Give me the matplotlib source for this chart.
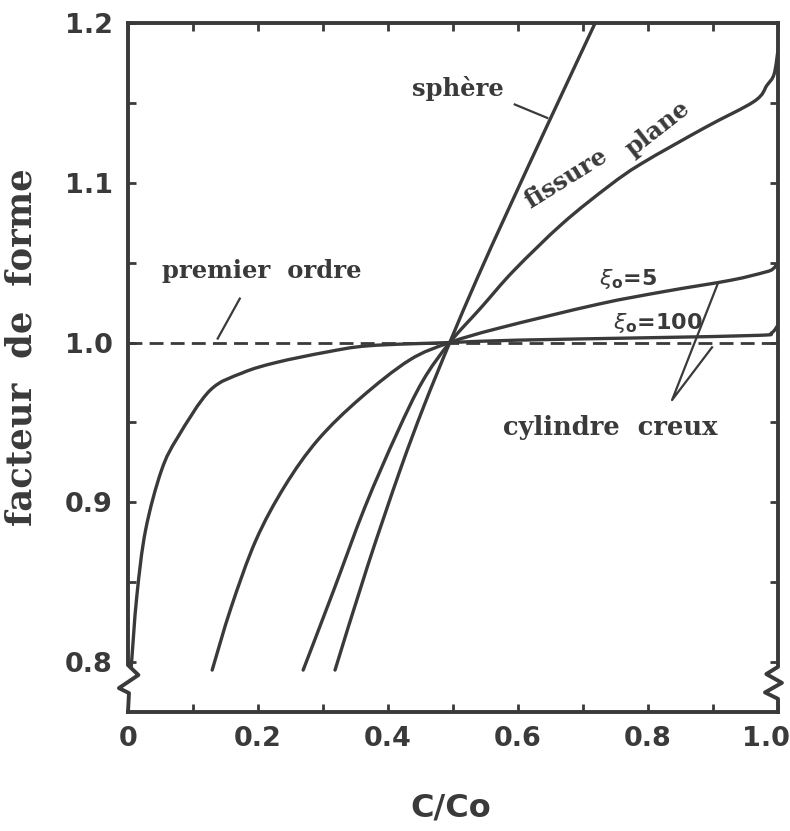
import matplotlib
matplotlib.use("Agg")
import matplotlib.pyplot as plt
from matplotlib.path import Path
from matplotlib.patches import PathPatch
import matplotlib.transforms as mtransforms

# ---------------- data ----------------
sphere_x = [0.3185, 0.3685, 0.4185, 0.455, 0.495, 0.537, 0.586, 0.6497, 0.7187]
sphere_y = [0.795, 0.860, 0.920, 0.960, 1.000, 1.040, 1.084, 1.140, 1.200]

fissure_x = [0.2695, 0.3165, 0.3645, 0.4135, 0.4535, 0.495, 0.5435, 0.5935, 0.6685,
             0.74, 0.79, 0.8875, 0.9635, 0.983, 0.994, 1.0]
fissure_y = [0.795, 0.845, 0.897, 0.943, 0.976, 1.000, 1.022, 1.045, 1.0745,
             1.098, 1.112, 1.1345, 1.151, 1.161, 1.168, 1.183]

xi5_x = [0.1295, 0.1585, 0.1965, 0.241, 0.292, 0.357, 0.433, 0.495, 0.5705,
         0.7235, 0.826, 0.9275, 0.9795, 0.992, 1.0]
xi5_y = [0.795, 0.834, 0.876, 0.910, 0.939, 0.965, 0.989, 1.000, 1.009,
         1.024, 1.032, 1.039, 1.044, 1.046, 1.050]

xi100_x = [0.005, 0.0135, 0.027, 0.0515, 0.077, 0.126, 0.176, 0.228, 0.305, 0.371,
           0.495, 0.6, 0.8, 0.97, 0.99, 1.0]
xi100_y = [0.797, 0.841, 0.8825, 0.920, 0.941, 0.970, 0.981, 0.9875, 0.994, 0.998,
           1.000, 1.0015, 1.003, 1.0045, 1.006, 1.011]

premier_x = [0.0, 1.0]
premier_y = [1.0, 1.0]

x_ticks = [0, 0.2, 0.4, 0.6, 0.8, 1.0]
x_ticklabels = ["0", "0.2", "0.4", "0.6", "0.8", "1.0"]
y_ticks = [0.8, 0.9, 1.0, 1.1, 1.2]
y_ticklabels = ["0.8", "0.9", "1.0", "1.1", "1.2"]
x_minor = [0.1, 0.3, 0.5, 0.7, 0.9]
y_minor = [0.85, 0.95, 1.05, 1.15]

# ---------------- styling ----------------
INK = "#3a3a3a"
SERIF = "DejaVu Serif"
SANS = "DejaVu Sans"

fig = plt.figure(figsize=(7.9, 8.31), dpi=100)
ax = fig.add_axes([128 / 790, 1 - 712 / 831, 650 / 790, 689 / 831])
XMIN, XMAX = 0.0, 1.0
YMIN, YMAX = 0.76875, 1.2
ax.set_xlim(XMIN, XMAX)
ax.set_ylim(YMIN, YMAX)


def smooth_curve(ax, xs, ys, **kw):
    """Draw a smooth Catmull-Rom (cubic Bezier) curve through the given points."""
    pts = list(zip(xs, ys))
    n = len(pts)
    verts = [pts[0]]
    codes = [Path.MOVETO]
    for i in range(n - 1):
        p0 = pts[i - 1] if i > 0 else pts[i]
        p1 = pts[i]
        p2 = pts[i + 1]
        p3 = pts[i + 2] if i + 2 < n else pts[i + 1]
        c1 = (p1[0] + (p2[0] - p0[0]) / 6.0, p1[1] + (p2[1] - p0[1]) / 6.0)
        c2 = (p2[0] - (p3[0] - p1[0]) / 6.0, p2[1] - (p3[1] - p1[1]) / 6.0)
        verts += [c1, c2, p2]
        codes += [Path.CURVE4] * 3
    patch = PathPatch(Path(verts, codes), fill=False, transform=ax.transData, **kw)
    ax.add_patch(patch)
    return patch


lw_curve = 2.4
ckw = dict(edgecolor=INK, lw=lw_curve, capstyle="round", joinstyle="round")
smooth_curve(ax, sphere_x, sphere_y, **ckw)
smooth_curve(ax, fissure_x, fissure_y, **ckw)
smooth_curve(ax, xi5_x, xi5_y, **ckw)
smooth_curve(ax, xi100_x, xi100_y, **ckw)
ax.plot(premier_x, premier_y, color=INK, lw=2.0, dashes=(5, 2.6))

# spines
for s in ["top", "bottom"]:
    ax.spines[s].set_linewidth(2.8)
    ax.spines[s].set_color(INK)
for s in ["left", "right"]:
    ax.spines[s].set_visible(False)

# left/right axis lines with break marks
left_x = [XMIN, XMIN, XMIN + 0.016, XMIN - 0.014, XMIN + 0.0015, XMIN]
left_y = [YMAX, 0.7981, 0.7919, 0.7837, 0.7806, YMIN]
right_x = [XMAX, XMAX, XMAX - 0.018, XMAX + 0.006, XMAX - 0.02, XMAX, XMAX]
right_y = [YMAX, 0.797, 0.7925, 0.787, 0.781, 0.777, YMIN]
ax.plot(left_x, left_y, color=INK, lw=2.8, clip_on=False, solid_joinstyle="round")
ax.plot(right_x, right_y, color=INK, lw=2.8, clip_on=False, solid_joinstyle="round")

# ticks
ax.set_xticks(x_ticks)
ax.set_xticklabels(x_ticklabels)
ax.set_yticks(y_ticks)
ax.set_yticklabels(y_ticklabels)
ax.set_xticks(x_minor, minor=True)
ax.set_yticks(y_minor, minor=True)
ax.tick_params(which="both", direction="in", top=True, right=True, length=6,
               width=2, color=INK)
ax.tick_params(axis="x", which="major", pad=10)
ax.tick_params(axis="y", which="major", pad=11)
for lab in ax.get_xticklabels() + ax.get_yticklabels():
    lab.set_fontfamily(SANS)
    lab.set_fontweight("bold")
    lab.set_fontsize(19.5)
    lab.set_color(INK)
# keep the last x label inside the figure (as in the reference)
last = ax.get_xticklabels()[-1]
last.set_transform(last.get_transform() +
                   mtransforms.ScaledTranslation(-12 / 100, 0, fig.dpi_scale_trans))

# axis labels
fig.text(451 / 790, 1 - 808 / 831, "C/Co", ha="center", va="center",
         fontsize=23, fontweight="bold", family=SANS, color=INK)
fig.text(22 / 790, 1 - 347 / 831, "facteur  de  forme", ha="center", va="center",
         rotation=90, fontsize=25.5, fontweight="bold", family=SERIF, color=INK)

# annotations
tk = dict(color=INK, family=SERIF, fontweight="bold", fontsize=17.5)
ax.text(0.205, 1.045, "premier  ordre", ha="center", va="center", **tk)
ax.plot([0.172, 0.138], [1.0275, 1.0025], color=INK, lw=1.6)

ax.text(0.508, 1.159, "sphère", ha="center", va="center", **tk)
ax.plot([0.595, 0.645], [1.149, 1.1406], color=INK, lw=1.6)

ax.text(0.674, 1.103, "fissure", ha="center", va="center", rotation=32,
        rotation_mode="anchor", **tk)
ax.text(0.815, 1.134, "plane", ha="center", va="center", rotation=38,
        rotation_mode="anchor", **tk)

ax.text(0.742, 0.947, "cylindre  creux", ha="center", va="center",
        **{**tk, "fontsize": 18.5})
ax.plot([0.9075, 0.837, 0.8985], [1.037, 0.964, 0.997], color=INK, lw=1.6)

mk = dict(color=INK, fontsize=16, fontweight="bold", family=SANS)
ax.text(0.724, 1.040, r"$\xi_{\mathbf{o}}$=5", ha="left", va="center", **mk)
ax.text(0.746, 1.012, r"$\xi_{\mathbf{o}}$=100", ha="left", va="center", **mk)

fig.savefig("out.png", dpi=100, facecolor="white")
